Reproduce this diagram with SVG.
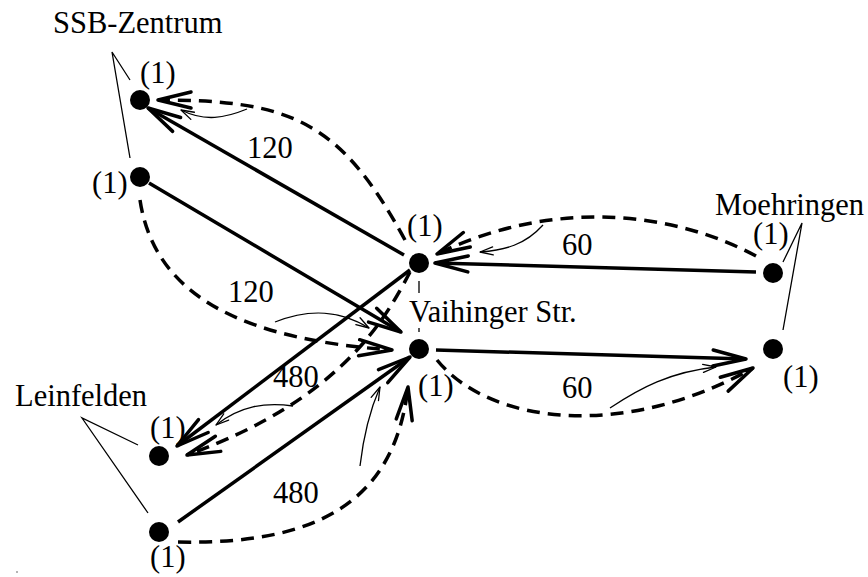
<svg xmlns="http://www.w3.org/2000/svg" width="868" height="577" viewBox="0 0 868 577">
  <style>
    text { font-family: "Liberation Serif", "Times New Roman", serif; font-size: 30.5px; fill: #000; }
    .dot { fill: #000; }
    .solid { fill: none; stroke: #000; stroke-width: 3.5; marker-end: url(#head); }
    .dashed { fill: none; stroke: #000; stroke-width: 3.5; stroke-dasharray: 13 8; marker-end: url(#head); }
    .thin { fill: none; stroke: #000; stroke-width: 1.3; marker-end: url(#thinhead); }
    .lead { fill: none; stroke: #000; stroke-width: 1.3; }
  </style>
  <defs>
    <marker id="head" markerUnits="userSpaceOnUse" orient="auto" overflow="visible" markerWidth="1" markerHeight="1" refX="0" refY="0">
      <path d="M-33,-8 L0,0 L-33,8" fill="none" stroke="#000" stroke-width="3.5" stroke-linecap="round" stroke-linejoin="round"/>
    </marker>
    <marker id="thinhead" markerUnits="userSpaceOnUse" orient="auto" overflow="visible" markerWidth="1" markerHeight="1" refX="0" refY="0">
      <path d="M-13,-4 L0,0 L-13,4" fill="none" stroke="#000" stroke-width="1.3" stroke-linecap="round" stroke-linejoin="round"/>
    </marker>
  </defs>

  <rect width="868" height="577" fill="#fff"/>

  <!-- connectors -->
  <g id="connectors">
    <!-- solid edges -->
    <path class="solid" d="M404,255 L148,108"/>
    <path class="solid" d="M149,183 L401,332"/>
    <path class="solid" d="M410,270 L177,446"/>
    <path class="solid" d="M178,522 L410,357"/>
    <path class="solid" d="M756,272 L435,263"/>
    <path class="solid" d="M436,350 L746,359"/>

    <!-- dashed edges -->
    <path class="dashed" d="M405,240 C340,120 290,100 158,100"/>
    <path class="dashed" d="M140,200 C155,300 250,340 392,350"/>
    <path class="dashed" d="M410,272 C385,320 340,400 187,455"/>
    <path class="dashed" d="M178,542 C320,545 395,500 408,387"/>
    <path class="dashed" d="M756,256 C680,215 560,195 437,254"/>
    <path class="dashed" d="M437,360 C490,425 625,440 753,368"/>

    <!-- thin pointers from the dashed edges -->
    <path class="thin" d="M247,109 C225,118 205,122 181,110"/>
    <path class="thin" d="M275,322 C310,308 340,310 369,328"/>
    <path class="thin" d="M293,406 C265,402 240,406 216,425"/>
    <path class="thin" d="M360,466 C363,440 370,410 380,387"/>
    <path class="thin" d="M543,225 C525,245 505,250 480,252"/>
    <path class="thin" d="M610,408 C640,388 670,372 716,367"/>

    <!-- short dashes between the two Vaihinger Str. nodes -->
    <path d="M419,281 L419,293 M419,328 L419,332" fill="none" stroke="#000" stroke-width="1.3"/>

    <!-- edge weights -->
    <text x="247" y="158">120</text>
    <text x="228" y="302">120</text>
    <text x="273" y="387">480</text>
    <text x="273" y="503">480</text>
    <text x="562" y="255">60</text>
    <text x="562" y="398">60</text>
  </g>

  <!-- station labels with leader lines -->
  <g id="label-ssb">
    <text x="53" y="33">SSB-Zentrum</text>
    <path class="lead" d="M130,80 L112,52 L130,158"/>
  </g>
  <g id="label-vaihinger">
    <text x="409" y="322">Vaihinger Str.</text>
  </g>
  <g id="label-moehringen">
    <text x="715" y="215">Moehringen</text>
    <path class="lead" d="M783,262 L802,223 L783,330"/>
  </g>
  <g id="label-leinfelden">
    <text x="15" y="406">Leinfelden</text>
    <path class="lead" d="M138,445 L82,418 L148,513"/>
  </g>

  <!-- nodes -->
  <g id="ssb-top">
    <circle class="dot" cx="140" cy="100" r="10"/>
    <text x="140" y="83">(1)</text>
  </g>
  <g id="ssb-bottom">
    <circle class="dot" cx="140" cy="177" r="10"/>
    <text x="92" y="193">(1)</text>
  </g>
  <g id="vaihinger-top">
    <circle class="dot" cx="419" cy="263" r="10"/>
    <text x="407" y="236">(1)</text>
  </g>
  <g id="vaihinger-bottom">
    <circle class="dot" cx="419" cy="349" r="10"/>
    <text x="418" y="396">(1)</text>
  </g>
  <g id="moehringen-top">
    <circle class="dot" cx="773" cy="273" r="10"/>
    <text x="753" y="244">(1)</text>
  </g>
  <g id="moehringen-bottom">
    <circle class="dot" cx="773" cy="349" r="10"/>
    <text x="783" y="387">(1)</text>
  </g>
  <g id="leinfelden-top">
    <circle class="dot" cx="159" cy="456" r="10"/>
    <text x="150" y="438">(1)</text>
  </g>
  <g id="leinfelden-bottom">
    <circle class="dot" cx="159" cy="532" r="10"/>
    <text x="150" y="567">(1)</text>
  </g>

  <circle cx="17" cy="572" r="0.8" fill="#555"/>
</svg>
